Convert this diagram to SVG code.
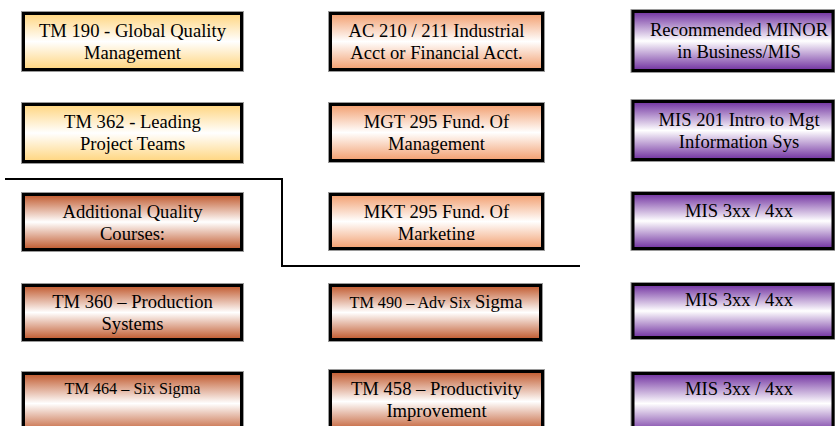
<svg xmlns="http://www.w3.org/2000/svg" width="835" height="426" viewBox="0 0 835 426">
<defs>
<linearGradient id="gY" x1="0" y1="0" x2="0" y2="1"><stop offset="0" stop-color="#FFD57E"/><stop offset="0.5" stop-color="#FFFFFF"/><stop offset="1" stop-color="#FFD57E"/></linearGradient>
<linearGradient id="gP" x1="0" y1="0" x2="0" y2="1"><stop offset="0" stop-color="#F29E6E"/><stop offset="0.5" stop-color="#FFFFFF"/><stop offset="1" stop-color="#F29E6E"/></linearGradient>
<linearGradient id="gR" x1="0" y1="0" x2="0" y2="1"><stop offset="0" stop-color="#C0582C"/><stop offset="0.5" stop-color="#FFFFFF"/><stop offset="1" stop-color="#C0582C"/></linearGradient>
<linearGradient id="gV" x1="0" y1="0" x2="0" y2="1"><stop offset="0" stop-color="#7030A0"/><stop offset="0.5" stop-color="#FFFFFF"/><stop offset="1" stop-color="#7030A0"/></linearGradient>
<clipPath id="clipMkt"><rect x="330" y="190" width="215" height="50"/></clipPath>
</defs>
<style>
.halo{fill:none;stroke:#9a9a9a;stroke-width:5}
.box{stroke:#000;stroke-width:3}
.y{fill:url(#gY)}.p{fill:url(#gP)}.r{fill:url(#gR)}.v{fill:url(#gV)}
text{font-family:"Liberation Serif","Times New Roman",serif;font-size:18.6px;fill:#000;text-anchor:middle}
.sm{font-size:16.2px}
.sep{fill:none;stroke:#000;stroke-width:2}
</style>

<g id="connectors">
<path class="sep" d="M5,179 H282 V266 H580"/>
</g>

<g id="tm190"><rect class="halo" x="23.5" y="13.5" width="218" height="56"/><rect class="box y" x="23.5" y="13.5" width="218" height="56"/>
<text x="132.5" y="37">TM 190 - Global Quality</text><text x="132.5" y="59">Management</text></g>
<g id="tm362"><rect class="halo" x="23.5" y="104.5" width="218" height="57"/><rect class="box y" x="23.5" y="104.5" width="218" height="57"/>
<text x="132.5" y="128">TM 362 - Leading</text><text x="132.5" y="150">Project Teams</text></g>
<g id="addq"><rect class="halo" x="23.5" y="194.5" width="218" height="55"/><rect class="box r" x="23.5" y="194.5" width="218" height="55"/>
<text x="132.5" y="218">Additional Quality</text><text x="132.5" y="240">Courses:</text></g>
<g id="tm360"><rect class="halo" x="23.5" y="285.5" width="218" height="54"/><rect class="box r" x="23.5" y="285.5" width="218" height="54"/>
<text x="132.5" y="308">TM 360 – Production</text><text x="132.5" y="330">Systems</text></g>
<g id="tm464"><rect class="halo" x="23.5" y="373.5" width="218" height="60"/><rect class="box r" x="23.5" y="373.5" width="218" height="60"/>
<text class="sm" x="132.5" y="394">TM 464 – Six Sigma</text></g>

<g id="ac210"><rect class="halo" x="330.5" y="13.5" width="212" height="56"/><rect class="box p" x="330.5" y="13.5" width="212" height="56"/>
<text x="436.5" y="37">AC 210 / 211 Industrial</text><text x="436.5" y="59">Acct or Financial Acct.</text></g>
<g id="mgt295"><rect class="halo" x="330.5" y="104.5" width="212" height="56"/><rect class="box p" x="330.5" y="104.5" width="212" height="56"/>
<text x="436.5" y="128">MGT 295 Fund. Of</text><text x="436.5" y="150">Management</text></g>
<g id="mkt295"><rect class="halo" x="330.5" y="194.5" width="212" height="54"/><rect class="box p" x="330.5" y="194.5" width="212" height="54"/>
<text x="436.5" y="218">MKT 295 Fund. Of</text><text x="436.5" y="240" clip-path="url(#clipMkt)">Marketing</text></g>
<g id="tm490"><rect class="halo" x="330.5" y="285.5" width="210" height="54"/><rect class="box r" x="330.5" y="285.5" width="210" height="54"/>
<text x="436" y="308"><tspan class="sm">TM 490 – Adv Six </tspan><tspan>Sigma</tspan></text></g>
<g id="tm458"><rect class="halo" x="330.5" y="371.5" width="212" height="60"/><rect class="box r" x="330.5" y="371.5" width="212" height="60"/>
<text x="436.5" y="395">TM 458 – Productivity</text><text x="436.5" y="417">Improvement</text></g>

<g id="minor"><rect class="halo" x="633" y="11.5" width="200" height="59"/><rect class="box v" x="633" y="11.5" width="200" height="59"/>
<text x="739" y="36">Recommended MINOR</text><text x="739" y="58">in Business/MIS</text></g>
<g id="mis201"><rect class="halo" x="633" y="101.5" width="200" height="58"/><rect class="box v" x="633" y="101.5" width="200" height="58"/>
<text x="739" y="126">MIS 201 Intro to Mgt</text><text x="739" y="148">Information Sys</text></g>
<g id="mis3a"><rect class="halo" x="633" y="193.5" width="200" height="55"/><rect class="box v" x="633" y="193.5" width="200" height="55"/>
<text x="739" y="217">MIS 3xx / 4xx</text></g>
<g id="mis3b"><rect class="halo" x="633" y="284.5" width="200" height="53"/><rect class="box v" x="633" y="284.5" width="200" height="53"/>
<text x="739" y="306">MIS 3xx / 4xx</text></g>
<g id="mis3c"><rect class="halo" x="633" y="373.5" width="200" height="60"/><rect class="box v" x="633" y="373.5" width="200" height="60"/>
<text x="739" y="395">MIS 3xx / 4xx</text></g>
</svg>
